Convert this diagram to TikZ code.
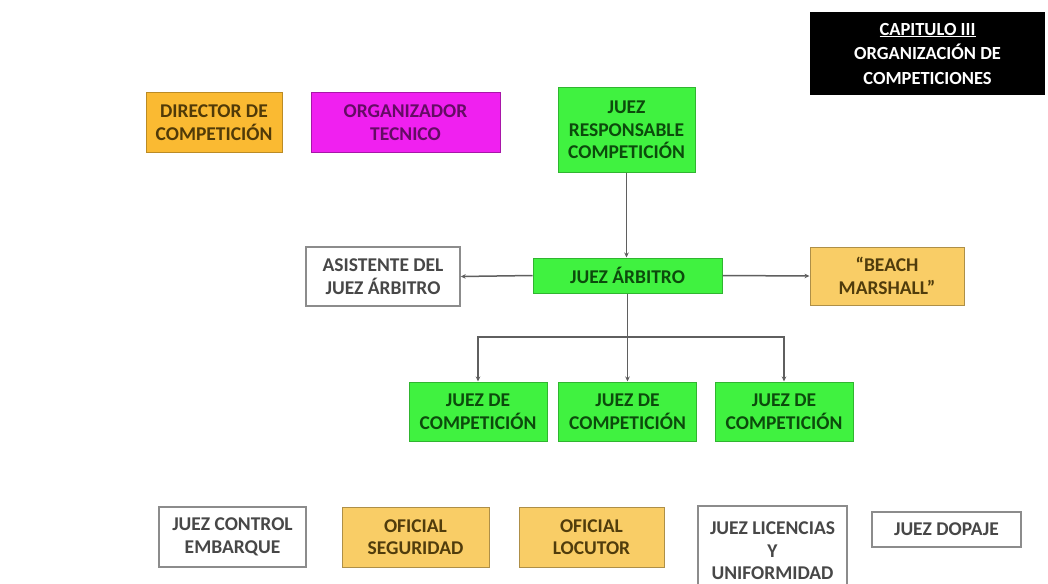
\documentclass[tikz,border=0pt]{standalone}
\usepackage{fontspec}
\setmainfont{Carlito}
\usepackage{xcolor}
\usepackage{tikz}
\usetikzlibrary{shapes,arrows,positioning,calc,arrows.meta}

\definecolor{juezgreen}{RGB}{64,242,64}
\definecolor{juezorange}{RGB}{250,186,50}
\definecolor{ofiorange}{RGB}{249,205,102}
\definecolor{orgmagenta}{RGB}{240,32,240}
\definecolor{linegray}{RGB}{95,95,95}

\begin{document}
\begin{tikzpicture}[x=1pt, y=-1pt,
    box/.style={rectangle, align=center, inner sep=2pt,
        font=\fontsize{19.5}{22.5}\selectfont\bfseries},
    greenbox/.style={box, fill=juezgreen, draw=juezgreen!75!black, line width=1pt, text={rgb,255:red,12;green,75;blue,12}},
    orangebox/.style={box, fill=juezorange, draw=juezorange!75!black, line width=1pt, text={rgb,255:red,80;green,58;blue,8}},
    ofibox/.style={box, fill=ofiorange, draw=ofiorange!70!black, line width=1pt, text={rgb,255:red,80;green,60;blue,12}},
    magbox/.style={box, fill=orgmagenta, draw=orgmagenta!70!black, line width=1pt, text={rgb,255:red,100;green,12;blue,100}},
    whitebox/.style={box, fill=white, draw=black!45, line width=1.4pt, text=black!72},
    conn/.style={draw=linegray, line width=1.5pt},
    arr/.style={conn, -{Stealth[length=5pt,width=4.5pt]}}]

    \useasboundingbox[fill=white] (0,0) rectangle (1048,583);
    \clip (0,0) rectangle (1048,583);

    % Title
    \node[box, fill=black, text=white, minimum width=235, minimum height=83,
        font=\fontsize{18.5}{24.5}\selectfont\bfseries] (title) at (927.5,53.5)
        {\underline{CAPITULO III}\\ORGANIZACIÓN DE\\COMPETICIONES};

    % Top row
    \node[orangebox, minimum width=136, minimum height=59] (director) at (214,122.5) {DIRECTOR DE\\COMPETICIÓN};
    \node[magbox, minimum width=189, minimum height=59] (organizador) at (405.5,122.5) {ORGANIZADOR\\TECNICO};
    \node[greenbox, minimum width=137, minimum height=84] (responsable) at (626.5,130) {JUEZ\\RESPONSABLE\\COMPETICIÓN};

    % Middle row
    \node[greenbox, minimum width=189, minimum height=35] (arbitro) at (627.5,275.5) {JUEZ ÁRBITRO};
    \node[whitebox, minimum width=154, minimum height=59] (asistente) at (383,276.5) {ASISTENTE DEL\\JUEZ ÁRBITRO};
    \node[ofibox, minimum width=154, minimum height=58] (beach) at (887,276) {``BEACH\\MARSHALL''};

    % Juez de competicion
    \node[greenbox, minimum width=138, minimum height=59] (comp1) at (478,411.5) {JUEZ DE\\COMPETICIÓN};
    \node[greenbox, minimum width=138, minimum height=59] (comp2) at (627.5,411.5) {JUEZ DE\\COMPETICIÓN};
    \node[greenbox, minimum width=138, minimum height=59] (comp3) at (784,411.5) {JUEZ DE\\COMPETICIÓN};

    % Bottom row
    \node[whitebox, minimum width=147, minimum height=60] (embarque) at (232.5,537) {JUEZ CONTROL\\EMBARQUE};
    \node[ofibox, minimum width=147, minimum height=60] (seguridad) at (415.5,537) {OFICIAL\\SEGURIDAD};
    \node[ofibox, minimum width=145, minimum height=60] (locutor) at (591.5,537) {OFICIAL\\LOCUTOR};
    \node[whitebox, minimum width=149, minimum height=90] (licencias) at (772.5,551) {JUEZ LICENCIAS\\Y\\UNIFORMIDAD};
    \node[whitebox, minimum width=149, minimum height=35] (dopaje) at (946.5,529.5) {JUEZ DOPAJE};

    % Connectors
    \draw[arr] (responsable.south) -- (responsable.south |- arbitro.north);
    \draw[arr] (arbitro.west) -- (asistente.east);
    \draw[arr] (arbitro.east) -- (beach.west);
    \coordinate (bus) at (arbitro.south |- 0,337);
    \draw[conn] (arbitro.south) -- (bus);
    \draw[arr] (bus) -| (comp1.north);
    \draw[arr] (bus) -| (comp3.north);
    \draw[arr] (bus) -- (comp2.north);
\end{tikzpicture}
\end{document}
